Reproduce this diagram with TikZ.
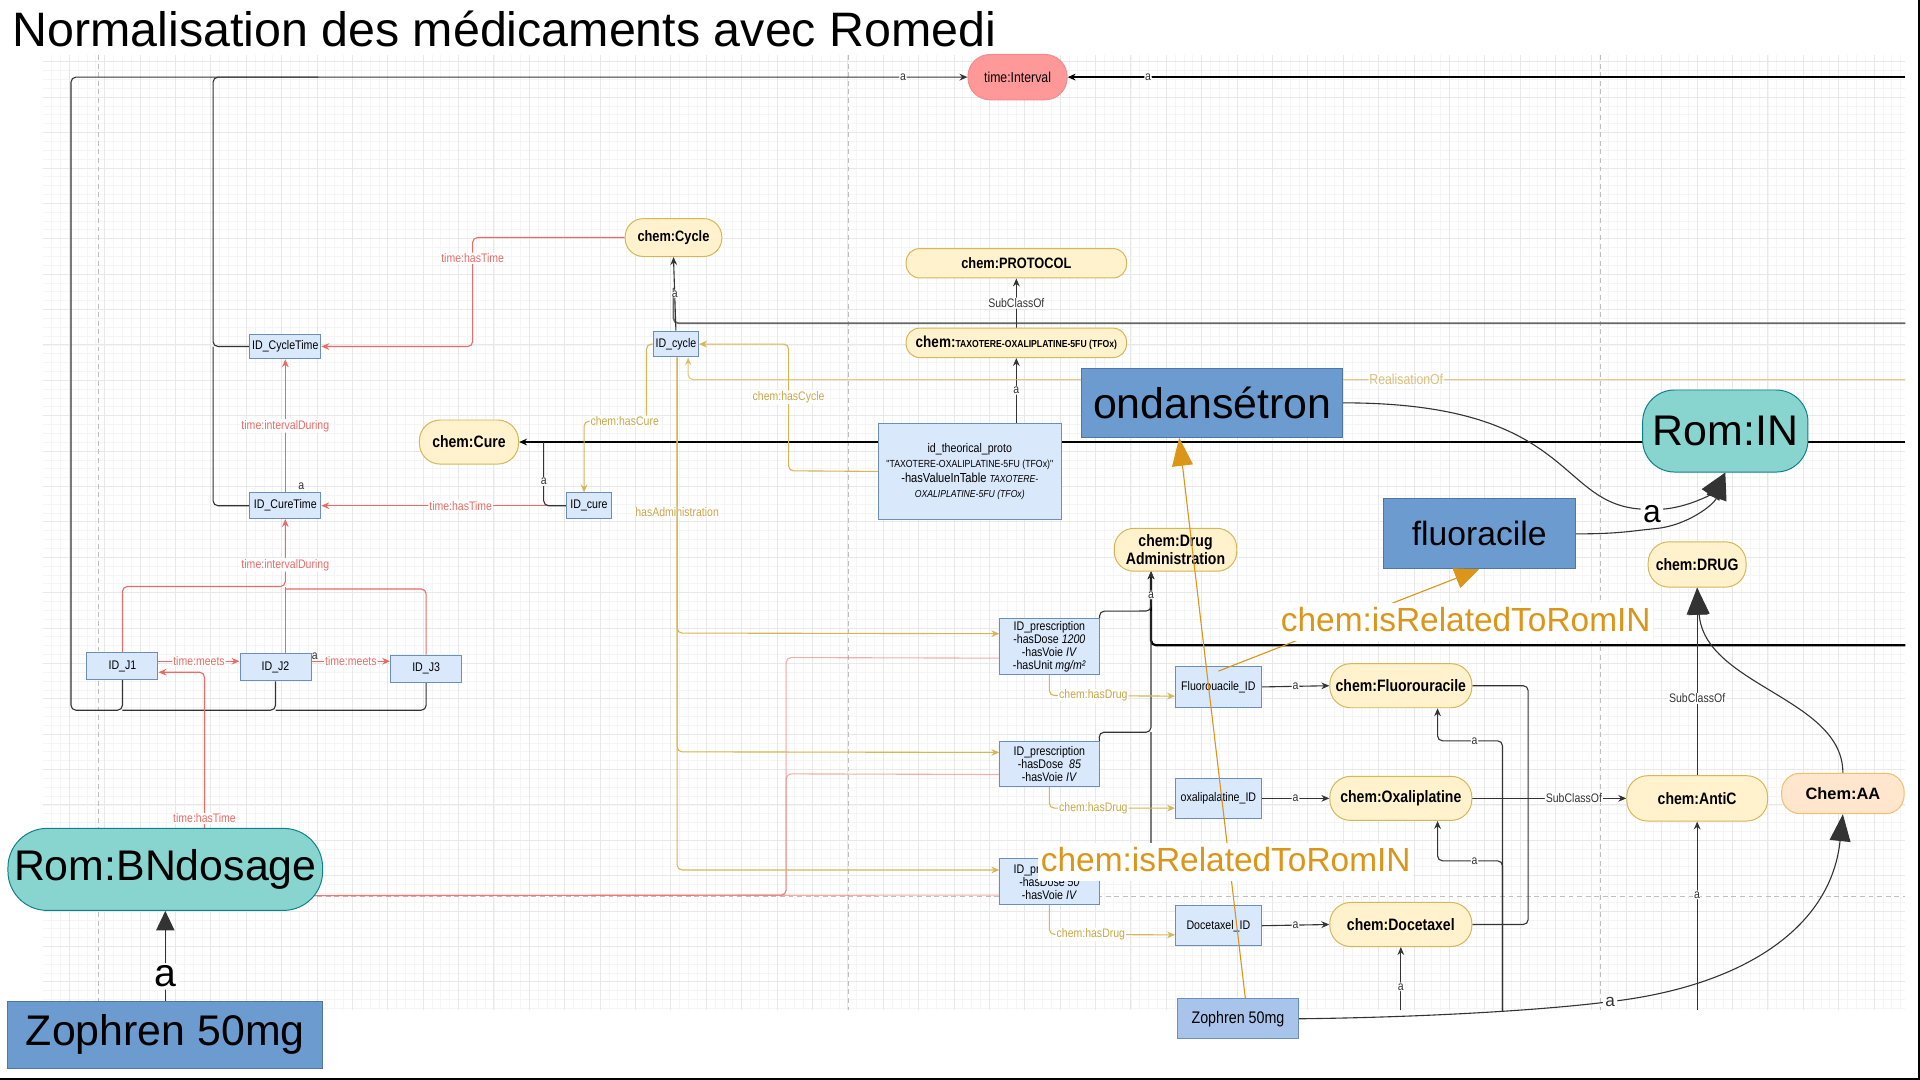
\documentclass[tikz,border=0pt]{standalone}
\usepackage{fontspec}
\setmainfont{Liberation Sans}
\newfontfamily\narrowsf[FakeStretch=0.85]{Liberation Sans}
\usetikzlibrary{arrows.meta}

\definecolor{boxfill}{HTML}{DAE8FC}
\definecolor{boxline}{HTML}{6C8EBF}
\definecolor{clsfill}{HTML}{FFF2CC}
\definecolor{clsline}{HTML}{D6B656}
\definecolor{timefill}{HTML}{FF9999}
\definecolor{timeline}{HTML}{F08C8C}
\definecolor{romfill}{HTML}{88D4CE}
\definecolor{romline}{HTML}{0E8088}
\definecolor{bigfill}{HTML}{6C9BCF}
\definecolor{bigline}{HTML}{4F76AA}
\definecolor{smallfill}{HTML}{A9C4EB}
\definecolor{aafill}{HTML}{FFE6CC}
\definecolor{aaline}{HTML}{F2BE6A}
\definecolor{redln}{HTML}{EA6B66}
\definecolor{tanln}{HTML}{D6B656}
\definecolor{tantxt}{HTML}{C8A64A}
\definecolor{orangeln}{HTML}{DB9518}
\definecolor{gridstrong}{HTML}{E8E8E8}
\definecolor{gridlight}{HTML}{F5F5F5}

\pgfdeclarelayer{bg}
\pgfdeclarelayer{fg}
\pgfsetlayers{bg,main,fg}

\begin{document}
\begin{tikzpicture}
[x=1pt,y=-1pt,>={Stealth[length=6.5pt,width=5.5pt]},
 every node/.style={inner sep=0pt,align=center},
 idbox/.style={draw=boxline,fill=boxfill,line width=0.8pt,font=\narrowsf\fontsize{10.2}{10.6}\selectfont},
 classnode/.style={draw=clsline,fill=clsfill,line width=0.8pt,rounded corners=17pt,font=\narrowsf\bfseries\fontsize{13.5}{15}\selectfont},
 timenode/.style={draw=timeline,fill=timefill,line width=0.8pt,rounded corners=18pt,font=\narrowsf\fontsize{11.8}{13}\selectfont},
 romnode/.style={draw=romline,fill=romfill,line width=0.8pt,font=\fontsize{35}{40}\selectfont},
 bignode/.style={draw=bigline,fill=bigfill,line width=0.8pt,font=\fontsize{35}{40}\selectfont},
 lbl/.style={fill=white,inner sep=0.8pt,text=black!80,font=\narrowsf\fontsize{10.1}{11}\selectfont},
 redlbl/.style={lbl,text=redln},
 tanlbl/.style={lbl,text=tantxt},
 bigA/.style={fill=white,inner sep=2pt,text=black,font=\fontsize{26}{28}\selectfont},
 relbl/.style={fill=white,inner sep=2pt,text height=21pt,text depth=6pt,text=orangeln,font=\fontsize{27.3}{30}\selectfont},
 blackl/.style={draw=black!80,line width=0.9pt,rounded corners=4pt},
 strongl/.style={draw=black,line width=1.8pt,rounded corners=4pt},
 grayl/.style={draw=black!60,line width=1.4pt,rounded corners=4pt},
 redl/.style={draw=redln,line width=0.9pt,rounded corners=4pt},
 tanl/.style={draw=tanln,line width=0.9pt,rounded corners=4pt},
 orangel/.style={draw=orangeln,line width=0.9pt},
 bigtip/.style={-{Triangle[length=22pt,width=17pt]}},
 minorgrid/.style={draw=gridlight,line width=0.5pt},
 majorgrid/.style={draw=gridstrong,line width=0.6pt},
 pagebreak/.style={draw=black!25,line width=0.6pt,dash pattern=on 4pt off 3pt}]

  \useasboundingbox (0,0) rectangle (1568,882);

  \node[anchor=base west,font=\fontsize{39.5}{44}\selectfont] (title) at (10,38) {Normalisation des médicaments avec Romedi};

  % classes
  \node[timenode,minimum width=81pt,minimum height=37pt] (interval) at (831,63) {time:Interval};
  \node[classnode,minimum width=79pt,minimum height=31pt,rounded corners=15pt,font=\narrowsf\bfseries\fontsize{12.3}{14}\selectfont] (cycle) at (550,194) {chem:Cycle};
  \node[classnode,minimum width=180pt,minimum height=24pt,rounded corners=11pt,font=\narrowsf\bfseries\fontsize{12.3}{14}\selectfont] (protocol) at (830,215) {chem:PROTOCOL};
  \node[classnode,minimum width=180pt,minimum height=24pt,rounded corners=11pt,font=\narrowsf\bfseries\fontsize{13}{14}\selectfont] (tfox) at (830,280) {chem:{\fontsize{8.3}{14}\selectfont TAXOTERE-OXALIPLATINE-5FU (TFOx)}};
  \node[classnode,minimum width=81pt,minimum height=36pt] (cure) at (383,361) {chem:Cure};
  \node[classnode,minimum width=100pt,minimum height=35pt,rounded corners=16pt] (drugadm) at (960,449) {chem:Drug\\Administration};
  \node[classnode,minimum width=80pt,minimum height=37pt] (drug) at (1386,461) {chem:DRUG};
  \node[classnode,minimum width=116pt,minimum height=36pt] (fluorou) at (1144,560) {chem:Fluorouracile};
  \node[classnode,minimum width=116pt,minimum height=36pt] (oxali) at (1144,652) {chem:Oxaliplatine};
  \node[classnode,minimum width=116pt,minimum height=36pt] (docetax) at (1144,755) {chem:Docetaxel};
  \node[classnode,minimum width=115pt,minimum height=37pt] (antic) at (1386,652) {chem:AntiC};
  \node[classnode,draw=aaline,fill=aafill,minimum width=100pt,minimum height=33pt,rounded corners=15pt,font=\bfseries\fontsize{13.4}{15}\selectfont] (chemaa) at (1505,648) {Chem:AA};

  % instances
  \node[idbox,minimum width=58pt,minimum height=20pt] (cycletime) at (233,283) {ID\_CycleTime};
  \node[idbox,minimum width=58pt,minimum height=21pt] (curetime) at (233,413) {ID\_CureTime};
  \node[idbox,minimum width=37pt,minimum height=21pt] (idcycle) at (552,281) {ID\_cycle};
  \node[idbox,minimum width=37pt,minimum height=21pt] (idcure) at (481,413) {ID\_cure};
  \node[idbox,minimum width=58pt,minimum height=22pt] (j1) at (100,544) {ID\_J1};
  \node[idbox,minimum width=58pt,minimum height=22pt] (j2) at (225,545) {ID\_J2};
  \node[idbox,minimum width=58pt,minimum height=22pt] (j3) at (348,546) {ID\_J3};
  \node[idbox,minimum width=149pt,minimum height=79pt,font=\narrowsf\fontsize{10.2}{12.2}\selectfont] (proto) at (792,385) {id\_theorical\_proto\\{\fontsize{8.4}{12.2}\selectfont "TAXOTERE-OXALIPLATINE-5FU (TFOx)"}\\{\fontsize{10.7}{12.2}\selectfont -hasValueInTable} {\fontsize{8.3}{12.2}\selectfont\itshape TAXOTERE-}\\{\fontsize{8.3}{12.2}\selectfont\itshape OXALIPLATINE-5FU (TFOx)}};
  \node[idbox,minimum width=81pt,minimum height=45pt] (presc1) at (857,528) {ID\_prescription\\-hasDose \textit{1200}\\-hasVoie \textit{IV}\\-hasUnit \textit{mg/m²}};
  \node[idbox,minimum width=81pt,minimum height=37pt] (presc2) at (857,624) {ID\_prescription\\-hasDose\ \ \textit{85}\\-hasVoie \textit{IV}};
  \node[idbox,minimum width=81pt,minimum height=37pt] (presc3) at (857,720) {ID\_prescription\\-hasDose \textit{50}\\-hasVoie \textit{IV}};
  \node[idbox,minimum width=70pt,minimum height=33pt] (fluoid) at (995,561) {Fluorouacile\_ID};
  \node[idbox,minimum width=70pt,minimum height=33pt] (oxaid) at (995,652) {oxalipalatine\_ID};
  \node[idbox,minimum width=70pt,minimum height=33pt] (docid) at (995,756) {Docetaxel\_ID};
  \node[idbox,fill=smallfill,minimum width=99pt,minimum height=33pt,font=\narrowsf\fontsize{13.7}{15}\selectfont] (zophs) at (1011,832) {Zophren 50mg};
  \node[lbl,fill=none] (acure) at (246,397) {a};
  \node[lbl,fill=none] (aj2) at (257,536) {a};

  % romedi
  \node[bignode,minimum width=213pt,minimum height=56pt] (ondan) at (990,329) {ondansétron};
  \node[bignode,minimum width=157pt,minimum height=57pt,font=\fontsize{27.5}{30}\selectfont] (fluora) at (1208,436) {fluoracile};
  \node[bignode,minimum width=257pt,minimum height=55pt] (zophb) at (135,845) {Zophren 50mg};
  \node[romnode,minimum width=135pt,minimum height=67pt,rounded corners=26pt] (romin) at (1409,352) {Rom:IN};
  \node[romnode,minimum width=257pt,minimum height=67pt,rounded corners=32pt] (bndos) at (135,710) {Rom:BNdosage};

  \begin{pgfonlayer}{bg}
  \fill[white] (0,0) rectangle (1568,882);
  \foreach \m in {2,...,211}
    \draw[minorgrid] ({27.6+7.225*\m},45) -- ({27.6+7.225*\m},825);
  \foreach \m in {4,...,111}
    \draw[minorgrid] (35,{21.5+7.225*\m}) -- (1556,{21.5+7.225*\m});
  \foreach \k in {1,...,52}
    \draw[majorgrid] ({27.6+28.9*\k},45) -- ({27.6+28.9*\k},825);
  \foreach \k in {1,...,27}
    \draw[majorgrid] (35,{21.5+28.9*\k}) -- (1556,{21.5+28.9*\k});
  \foreach \x in {80,693,1307}
    \draw[pagebreak] (\x,45) -- (\x,825);
  \draw[pagebreak] (35,732) -- (1556,732);
  \draw[black,line width=1.3pt] (1567.3,0) -- (1567.3,882);
  \draw[black,line width=1.3pt] (0,881.3) -- (1568,881.3);

  % time
  \draw[blackl,->] (j1.south) -- (100,580) -- (58,580) -- (58,63) -- node[lbl,pos=.928]{a} (interval.west);
  \draw[blackl] (j2.south) -- (225,580) -- (100,580);
  \draw[blackl] (j3.south) -- (348,580) -- (225,580);
  \draw[blackl] (cycletime.west) -- (174,283) -- (174,63) -- (260,63);
  \draw[blackl] (curetime.west) -- (174,413) -- (174,283);
  \draw[strongl,->] (1556,63) -- node[lbl,pos=.904]{a} (interval.east);
  \draw[redl,->] (cycle.west) -- (386,194) -- node[redlbl,pos=.19]{time:hasTime} (386,283) -- (cycletime.east);
  \draw[redl,->] (curetime.north) -- node[redlbl]{time:intervalDuring} (cycletime.south);
  \draw[redl,->] (idcure.west) -- node[redlbl,pos=.43]{time:hasTime} (curetime.east);
  \draw[redl] ([xshift=8pt]j2.north) -- (233,479);
  \draw[redl] (j3.north) -- (348,481) -- (233,481);
  \draw[redl,->] (j1.north) -- (100,479) -- (233,479) -- node[redlbl,pos=.32]{time:intervalDuring} (curetime.south);
  \draw[redl,->] ([yshift=4pt]j1.east) -- node[redlbl]{time:meets} ([yshift=5pt]j2.west);
  \draw[redl,->] ([yshift=5pt]j2.east) -- node[redlbl]{time:meets} ([yshift=6pt]j3.west);
  \draw[redl,->] ([xshift=32pt]bndos.north) -- node[redlbl,pos=.06]{time:hasTime} (167,549) -- ([yshift=-5pt]j1.east);
  \draw[redl,opacity=.55] ([yshift=-21.5pt]bndos.center) -- (642,731) -- (642,537) -- ([yshift=-9.5pt]presc1.west);
  \draw[redl,opacity=.55] ([yshift=-21.5pt]bndos.center) -- (642,731) -- (642,632) -- ([yshift=-8.5pt]presc2.west);
  \draw[redl,opacity=.55] ([yshift=-21.5pt]bndos.center) -- ([yshift=-11pt]presc3.west);

  % cure, cycle, protocol
  \draw[grayl] (1556,264) -- (550,264) -- (550,235);
  \draw[blackl,->] (idcycle.north) -- node[lbl]{a} (cycle.south);
  \draw[strongl,->] (1556,361) -- (cure.east);
  \draw[blackl] (idcure.west) -- (444,413) -- node[lbl,pos=.38]{a} (444,361);
  \draw[blackl,->] (tfox.north) -- node[lbl]{SubClassOf} (protocol.south);
  \draw[blackl,->] ([xshift=38pt]proto.north) -- node[lbl]{a} (tfox.south);
  \draw[tanl,->] (idcycle.west) -- (528,281) -- (528,344) -- node[tanlbl,pos=.35]{chem:hasCure} (477,344) -- ([xshift=-4pt]idcure.north);
  \draw[tanl,->] (proto.west) -- (644,384.5) -- node[tanlbl,pos=.58]{chem:hasCycle} (644,281) -- (idcycle.east);
  \draw[tanl,opacity=.7,->] (1556,310) -- node[tanlbl,pos=.41,font=\narrowsf\fontsize{11.8}{13}\selectfont]{RealisationOf} (562,310) -- ([xshift=10pt]idcycle.south);
  \draw[tanl,->] ([xshift=1pt]idcycle.south) -- node[tanlbl,pos=.56]{hasAdministration} (553,517) -- ([yshift=10.5pt]presc1.west);
  \draw[tanl,->] ([xshift=1pt]idcycle.south) -- (553,614) -- ([yshift=9.5pt]presc2.west);
  \draw[tanl,->] ([xshift=1pt]idcycle.south) -- (553,710.5) -- ([yshift=9.5pt]presc3.west);

  % administration and drugs
  \draw[strongl,->] (1556,527) -- (940,527) -- (940,466.5);
  \draw[blackl,->] (presc1.north east) -- ++(0,-6) -- (940,499) -- node[lbl,pos=.4]{a} (940,466.5);
  \draw[blackl] (presc2.north east) -- (897.5,598) -- (940,598) -- (940,499);
  \draw[blackl] (presc3.north east) -- (897.5,695) -- (940,695) -- (940,598);
  \draw[tanl,->] (presc1.south) -- (857,568) -- node[tanlbl,pos=.35]{chem:hasDrug} ([yshift=-7.5pt]fluoid.west);
  \draw[tanl,->] (presc2.south) -- (857,660) -- node[tanlbl,pos=.35]{chem:hasDrug} ([yshift=-8pt]oxaid.west);
  \draw[tanl,->] (presc3.south) -- (857,763) -- node[tanlbl,pos=.33]{chem:hasDrug} ([yshift=-7.5pt]docid.west);
  \draw[blackl,->] (fluoid.east) -- node[lbl]{a} (fluorou.west);
  \draw[blackl,->] (oxaid.east) -- node[lbl]{a} (oxali.west);
  \draw[blackl,->] (docid.east) -- node[lbl]{a} (docetax.west);
  \draw[blackl] (fluorou.east) -- (1248,560) -- (1248,652);
  \draw[blackl] (docetax.east) -- (1248,755) -- (1248,652);
  \draw[blackl,->] (oxali.east) -- node[lbl,pos=.66]{SubClassOf} (antic.west);
  \draw[blackl,bigtip] (antic.north) -- node[lbl,pos=.41]{SubClassOf} (drug.south);
  \draw[blackl,bigtip] (chemaa.north) .. controls (1505,570) and (1392,560) .. (drug.south);
  \draw[blackl,->] (1386,825) -- node[lbl,pos=.61]{a} (antic.south);
  \draw[blackl,->] (1144,825) -- node[lbl,pos=.37]{a} (docetax.south);
  \draw[blackl,->] (1227,826) -- (1227,605) -- node[lbl,pos=.43]{a} (1174,605) -- ([xshift=30pt]fluorou.south);
  \draw[blackl,->] (1227,826) -- (1227,703) -- node[lbl,pos=.43]{a} (1174,703) -- ([xshift=30pt]oxali.south);
  \draw[blackl,bigtip] (zophs.east) .. controls (1150,831) and (1250,826) .. (1315,818) node[lbl,font=\fontsize{14}{15}\selectfont,inner sep=2pt]{a} .. controls (1420,805) and (1495,760) .. (chemaa.south);

  % romedi
  \draw[blackl,-{Triangle[length=16pt,width=15pt]}] (zophb.north) -- node[bigA,pos=.27,font=\fontsize{32}{34}\selectfont]{a} (bndos.south);
  \draw[blackl,-{Triangle[length=22pt,width=17pt]}] (fluora.east) .. controls (1320,436) and (1330,434) .. (1349,432) .. controls (1378,429) and (1400,412) .. (romin.south);
  \draw[blackl,-{Triangle[length=22pt,width=17pt]}] (ondan.east) .. controls (1290,329) and (1270,415) .. (1349,416) node[bigA,yshift=-4pt]{a} .. controls (1375,416) and (1397,404) .. (romin.south);
  \end{pgfonlayer}

  \begin{pgfonlayer}{fg}
  \draw[orangel,-{Triangle[length=20pt,width=17pt]}] ([yshift=-4pt]fluoid.north) -- (fluora.south);
  \draw[orangel,-{Triangle[length=23pt,width=17pt]}] ([xshift=6pt]zophs.north) -- ([xshift=-27pt]ondan.south);
  \node[relbl] (relfluo) at (1197,508) {chem:isRelatedToRomIN};
  \node[relbl] (relond) at (1001,704) {chem:isRelatedToRomIN};
  \end{pgfonlayer}
\end{tikzpicture}
\end{document}
